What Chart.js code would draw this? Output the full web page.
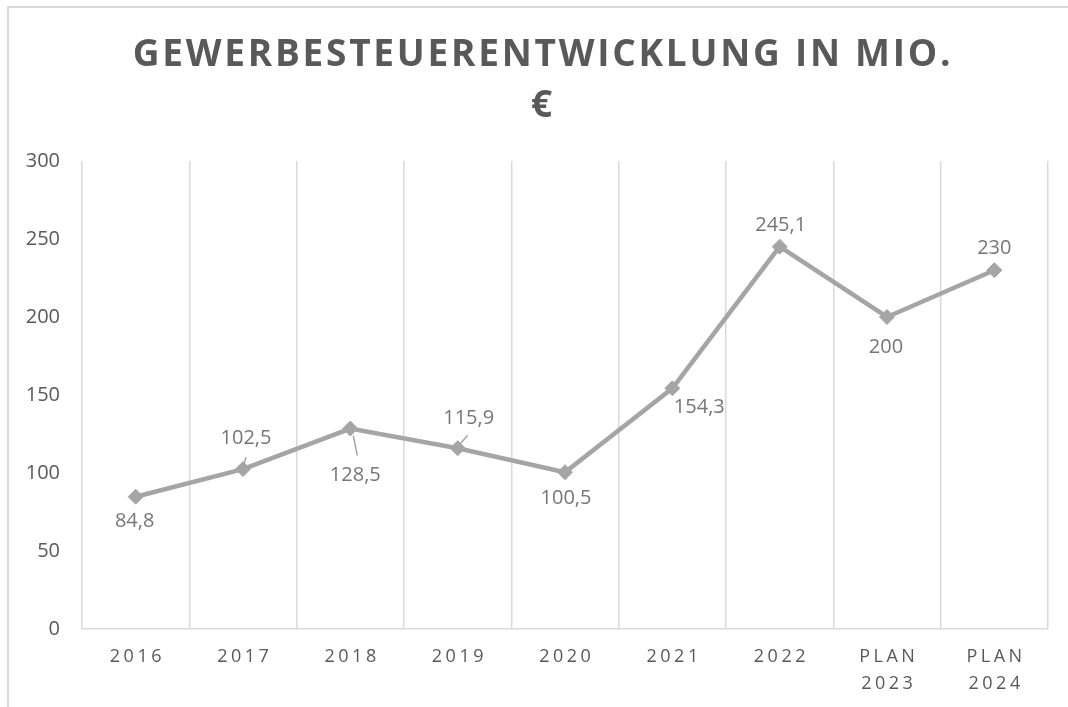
<!DOCTYPE html>
<html>
<head>
<meta charset="utf-8">
<script src="https://cdn.jsdelivr.net/npm/chart.js@4.4.1/dist/chart.umd.min.js"></script>
<style>
  html, body { margin: 0; padding: 0; background: #ffffff; }
  #wrap { position: relative; width: 1068px; height: 707px; overflow: hidden; }
  #frame { position: absolute; left: 7px; top: 6px; right: -10px; bottom: -10px;
           border-left: 2px solid #d9d9d9; border-top: 2px solid #d9d9d9; }
  #c { position: absolute; left: 0; top: 0; }
</style>
</head>
<body>
<div id="wrap">
  <div id="frame"></div>
  <canvas id="c" width="1068" height="707"></canvas>
</div>
<script>
// ---- data ----
const titleLines = ['GEWERBESTEUERENTWICKLUNG IN MIO.', '€'];
const categories = ['2016', '2017', '2018', '2019', '2020', '2021', '2022', ['PLAN', '2023'], ['PLAN', '2024']];
const values = [84.8, 102.5, 128.5, 115.9, 100.5, 154.3, 245.1, 200, 230];
const valueLabels = ['84,8', '102,5', '128,5', '115,9', '100,5', '154,3', '245,1', '200', '230'];
const yTicksMin = 0;
const yTicksMax = 300;
const yTicksStep = 50;

// ---- label placement (relative to each point) ----
const labelOffsets = [[-1, 25], [3, -31], [5, 47], [11, -30], [1, 26], [27, 19], [1, -21], [-1, 30], [0, -22]];
const leaderLines = [null, [3, -12, 1, -5], [3, 7, 7, 27], [10, -13, 3, -5], null, null, null, null, null];

const textGrey = '#595959';
const labelGrey = '#767676';
const lineGrey = '#a5a5a5';
const gridGrey = '#d9d9d9';

const spacingPlugin = {
  id: 'spacing',
  beforeDraw(chart) {
    const xs = chart.scales.x;
    if (xs && !xs._spaced) {
      const orig = xs.drawLabels;
      xs.drawLabels = function (a) {
        const ctx = this.ctx;
        ctx.save();
        ctx.letterSpacing = '3.5px';
        ctx.translate(1.75, 0);
        orig.call(this, a);
        ctx.restore();
      };
      xs._spaced = true;
    }
    const tb = chart.titleBlock;
    if (tb && !tb._spaced) {
      const origT = tb.draw;
      tb.draw = function () {
        const ctx = this.ctx;
        ctx.save();
        ctx.letterSpacing = '2.75px';
        ctx.translate(19, 0);
        origT.call(this);
        ctx.restore();
      };
      tb._spaced = true;
    }
  }
};

const dataLabelPlugin = {
  id: 'dataLabels',
  afterDatasetsDraw(chart) {
    const ctx = chart.ctx;
    const meta = chart.getDatasetMeta(0);
    ctx.save();
    ctx.font = '20px "Open Sans"';
    ctx.fillStyle = labelGrey;
    ctx.textAlign = 'center';
    ctx.textBaseline = 'middle';
    meta.data.forEach((pt, i) => {
      const ll = leaderLines[i];
      if (ll) {
        ctx.beginPath();
        ctx.strokeStyle = lineGrey;
        ctx.lineWidth = 1.5;
        ctx.moveTo(pt.x + ll[0], pt.y + ll[1]);
        ctx.lineTo(pt.x + ll[2], pt.y + ll[3]);
        ctx.stroke();
      }
      const off = labelOffsets[i];
      ctx.fillText(valueLabels[i], pt.x + off[0], pt.y + off[1]);
    });
    ctx.restore();
  }
};

new Chart(document.getElementById('c'), {
  type: 'line',
  data: {
    labels: categories,
    datasets: [{
      data: values,
      borderColor: lineGrey,
      borderWidth: 4.5,
      pointStyle: 'rectRot',
      pointRadius: 7.5,
      pointBackgroundColor: lineGrey,
      pointBorderColor: lineGrey,
      pointBorderWidth: 1,
      tension: 0,
      fill: false
    }]
  },
  options: {
    responsive: false,
    animation: false,
    devicePixelRatio: 1,
    layout: { padding: { left: 0, right: 20, top: 0, bottom: 0 } },
    plugins: {
      legend: { display: false },
      tooltip: { enabled: false },
      title: {
        display: true,
        text: titleLines,
        color: textGrey,
        font: { family: '"Open Sans"', size: 37, weight: 'bold', lineHeight: '51px' },
        padding: { top: 30, bottom: 29 }
      }
    },
    scales: {
      x: {
        offset: true,
        grid: { display: true, offset: true, color: gridGrey, lineWidth: 1.5, drawTicks: false },
        border: { display: true, color: gridGrey, width: 1.5 },
        ticks: {
          color: textGrey,
          font: { family: '"Open Sans"', size: 18, lineHeight: 1.5 },
          padding: 14.5,
          maxRotation: 0,
          autoSkip: false
        },
        afterFit(scale) { scale.height = 78; }
      },
      y: {
        min: yTicksMin,
        max: yTicksMax,
        grid: { display: false, drawTicks: false },
        border: { display: false },
        ticks: {
          stepSize: yTicksStep,
          color: textGrey,
          font: { family: '"Open Sans"', size: 20 },
          padding: 22
        },
        afterFit(scale) { scale.width = 82; }
      }
    }
  },
  plugins: [spacingPlugin, dataLabelPlugin]
});
</script>
</body>
</html>
